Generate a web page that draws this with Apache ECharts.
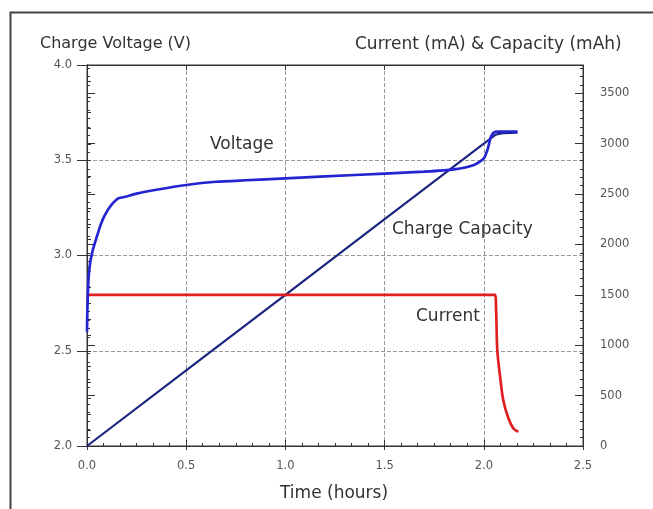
<!DOCTYPE html>
<html>
<head>
<meta charset="utf-8">
<script src="https://cdn.jsdelivr.net/npm/echarts@6/dist/echarts.min.js"></script>
<style>
html,body{margin:0;padding:0;background:#fff;}
#chart{width:653px;height:509px;}
</style>
</head>
<body>
<div id="chart"></div>
<script>
// Time (hours), Voltage (V)
const voltageData = [
  [0,2.60],[0.002,2.72],[0.005,2.82],[0.01,2.91],[0.017,2.97],[0.025,3.01],[0.035,3.05],
  [0.05,3.10],[0.065,3.15],[0.082,3.195],[0.1,3.23],[0.116,3.256],[0.135,3.28],[0.158,3.30],
  [0.2,3.31],[0.25,3.325],[0.35,3.345],[0.5,3.37],[0.65,3.387],[0.8,3.395],[1.0,3.405],
  [1.2,3.415],[1.5,3.43],[1.7,3.44],[1.85,3.452],[1.95,3.475],[2.0,3.51],[2.02,3.56],
  [2.035,3.62],[2.05,3.645],[2.07,3.65],[2.17,3.65]
];
// Time (hours), Charge capacity (mAh)
const capacityData = [
  [0,0],[0.5,750],[1.0,1500],[1.5,2250],[2.0,3000],[2.06,3090],[2.1,3105],[2.17,3110]
];
// Time (hours), Current (mA)
const currentData = [
  [0,1500],[2.056,1500],[2.062,1350],[2.068,950],[2.082,690],[2.098,456],
  [2.124,275],[2.149,175],[2.174,140]
];
const xTicks = [0,0.5,1.0,1.5,2.0,2.5];

const chart = echarts.init(document.getElementById('chart'), null, {renderer:'canvas'});
const FONT = 'DejaVu Sans, Verdana, sans-serif';
const labelFont = {color:'#555', fontSize:11.5, fontFamily:FONT};
const AX = '#333';
const none = {show:false};

function xBase(extra){
  return Object.assign({type:'value',min:0,max:2.5,interval:0.5,
    axisLine:{show:true,lineStyle:{color:AX,width:1}},
    axisLabel:none,splitLine:none,axisTick:none,minorTick:none},extra);
}
function yLeft(extra){
  return Object.assign({type:'value',min:2,max:4,interval:0.5,position:'left',
    axisLine:{show:true,lineStyle:{color:AX,width:1}},
    axisLabel:none,splitLine:none,axisTick:none,minorTick:none},extra);
}
function yRight(extra){
  return Object.assign({type:'value',min:0,max:3780,interval:500,position:'right',
    axisLine:{show:true,lineStyle:{color:AX,width:1}},
    axisLabel:none,splitLine:none,axisTick:none,minorTick:none},extra);
}

chart.setOption({
  backgroundColor:'#fff',
  animation:false,
  grid:{left:87,right:70,top:65,bottom:63,show:true,borderColor:AX,borderWidth:1,backgroundColor:'transparent'},
  xAxis:[
    xBase({position:'bottom',
      axisTick:{show:true,inside:false,length:4,lineStyle:{color:AX}},
      axisLabel:Object.assign({show:true,margin:14,formatter:v=>v.toFixed(1)},labelFont),
      splitLine:{show:true,lineStyle:{color:'#999',type:[4,2],width:1}}}),
    xBase({position:'bottom',
      axisTick:{show:true,inside:true,length:6,lineStyle:{color:AX}},
      minorTick:{show:true,splitNumber:6,length:3,lineStyle:{color:AX}}}),
    xBase({position:'top',
      axisTick:{show:true,inside:true,length:5,lineStyle:{color:AX}}})
  ],
  yAxis:[
    yLeft({
      axisTick:{show:true,inside:true,length:4,lineStyle:{color:AX}},
      minorTick:{show:true,splitNumber:6,length:4,lineStyle:{color:AX}},
      axisLabel:Object.assign({show:true,margin:15,formatter:v=>v.toFixed(1)},labelFont),
      splitLine:{show:true,lineStyle:{color:'#999',type:[4,2],width:1}}}),
    yRight({
      axisTick:{show:true,inside:false,length:8,lineStyle:{color:AX}},
      minorTick:{show:true,splitNumber:6,length:3,lineStyle:{color:AX}},
      axisLabel:Object.assign({show:true,margin:17,showMaxLabel:false,formatter:v=>String(v)},labelFont)}),
    yLeft({
      axisTick:{show:true,inside:false,length:10,lineStyle:{color:AX}}}),
    yRight({
      axisTick:{show:true,inside:true,length:8,lineStyle:{color:AX}},
      minorTick:{show:true,splitNumber:6,length:3,lineStyle:{color:AX}}})
  ],
  series:[
    {type:'line',name:'Voltage',yAxisIndex:0,data:voltageData,showSymbol:false,smooth:0.2,
     lineStyle:{color:'#2424d0',width:2.7},z:3},
    {type:'line',name:'Charge Capacity',yAxisIndex:1,data:capacityData,showSymbol:false,
     lineStyle:{color:'#1c2580',width:2.2},z:2},
    {type:'line',name:'Current',yAxisIndex:1,data:currentData,showSymbol:false,smooth:0.3,
     lineStyle:{color:'#e02020',width:2.7},z:2}
  ],
  graphic:[
    {type:'rect',left:8,top:10,shape:{width:700,height:560},style:{fill:null,stroke:'#444',lineWidth:2},silent:true,z:-1},
    {type:'text',left:40,top:36,style:{text:'Charge Voltage (V)',font:'16px '+FONT,fill:'#333'}},
    {type:'text',left:355,top:36,style:{text:'Current (mA) & Capacity (mAh)',font:'17px '+FONT,fill:'#333'}},
    {type:'text',left:280,top:485,style:{text:'Time (hours)',font:'17px '+FONT,fill:'#333'}},
    {type:'text',left:210,top:136,style:{text:'Voltage',font:'17px '+FONT,fill:'#333'}},
    {type:'text',left:392,top:221,style:{text:'Charge Capacity',font:'17px '+FONT,fill:'#333'}},
    {type:'text',left:416,top:308,style:{text:'Current',font:'17px '+FONT,fill:'#333'}}
  ]
});
</script>
</body>
</html>
